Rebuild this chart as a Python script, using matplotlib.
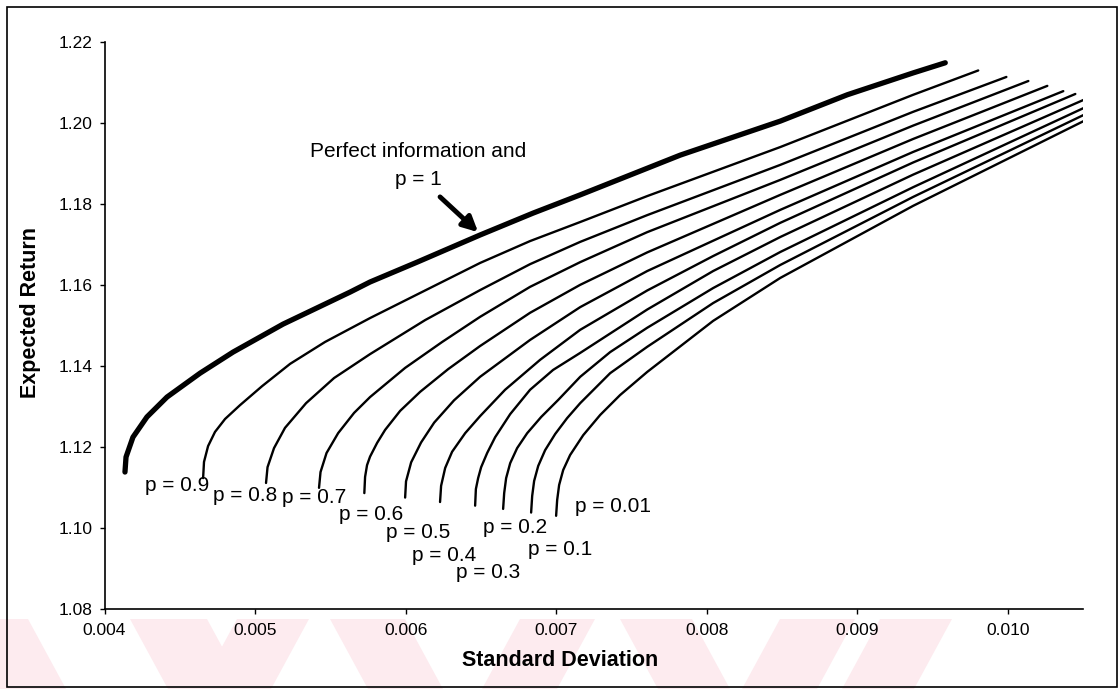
import matplotlib
matplotlib.use("Agg")
import matplotlib.pyplot as plt
from matplotlib.patches import Polygon, Rectangle

plt.rcParams['font.family'] = ['Liberation Sans', 'DejaVu Sans']

# mean-variance frontiers: standard deviation (x) vs expected return (y)
sd_p1 = [0.004136, 0.004143, 0.004189, 0.004282, 0.004415, 0.004635, 0.004854,
         0.005186, 0.005631, 0.005764, 0.006077, 0.006495, 0.006847, 0.007160,
         0.007824, 0.008489, 0.008934, 0.009372, 0.009585]
ret_p1 = [1.1138, 1.1175, 1.1224, 1.1274, 1.1323, 1.1382, 1.1434,
          1.1503, 1.1582, 1.1607, 1.1656, 1.1723, 1.1777, 1.1822,
          1.1920, 1.2004, 1.2069, 1.2123, 1.2148]

sd_p09 = [0.004655, 0.004661, 0.004688, 0.004734, 0.004801, 0.004900, 0.005047,
          0.005233, 0.005465, 0.005764, 0.006097, 0.006495, 0.006827, 0.007160,
          0.007605, 0.008489, 0.009372, 0.009804]
ret_p09 = [1.1123, 1.1163, 1.1202, 1.1237, 1.1269, 1.1303, 1.1350,
           1.1405, 1.1459, 1.1518, 1.1580, 1.1654, 1.1708, 1.1755,
           1.1819, 1.1940, 1.2069, 1.2129]

sd_p08 = [0.005073, 0.005083, 0.005126, 0.005199, 0.005339, 0.005525, 0.005764,
          0.006130, 0.006495, 0.006827, 0.007160, 0.007605, 0.008489, 0.009372,
          0.009991]
ret_p08 = [1.1111, 1.1150, 1.1197, 1.1247, 1.1308, 1.1370, 1.1429,
           1.1513, 1.1587, 1.1651, 1.1706, 1.1772, 1.1896, 1.2027,
           1.2113]

sd_p07 = [0.005425, 0.005435, 0.005475, 0.005552, 0.005658, 0.005764, 0.005997,
          0.006243, 0.006495, 0.006827, 0.007160, 0.007605, 0.008489, 0.009372,
          0.010137]
ret_p07 = [1.1099, 1.1138, 1.1185, 1.1234, 1.1284, 1.1323, 1.1395,
           1.1459, 1.1521, 1.1595, 1.1656, 1.1730, 1.1859, 1.1993,
           1.2103]

sd_p06 = [0.005726, 0.005731, 0.005744, 0.005764, 0.005811, 0.005864, 0.005964,
          0.006097, 0.006283, 0.006495, 0.006827, 0.007160, 0.007605, 0.008489,
          0.009372, 0.010263]
ret_p06 = [1.1086, 1.1126, 1.1155, 1.1176, 1.1210, 1.1242, 1.1289,
           1.1336, 1.1392, 1.1449, 1.1531, 1.1600, 1.1680, 1.1822,
           1.1960, 1.2091]

sd_p05 = [0.005997, 0.006003, 0.006037, 0.006103, 0.006190, 0.006322, 0.006495,
          0.006827, 0.007160, 0.007605, 0.008489, 0.009372, 0.010369]
ret_p05 = [1.1075, 1.1115, 1.1162, 1.1211, 1.1260, 1.1315, 1.1373,
           1.1464, 1.1545, 1.1634, 1.1785, 1.1928, 1.2078]

sd_p04 = [0.006229, 0.006236, 0.006263, 0.006309, 0.006396, 0.006495, 0.006661,
          0.006894, 0.007160, 0.007605, 0.008043, 0.008489, 0.009372, 0.010449]
ret_p04 = [1.1064, 1.1104, 1.1148, 1.1188, 1.1234, 1.1276, 1.1341,
           1.1415, 1.1489, 1.1586, 1.1671, 1.1753, 1.1902, 1.2071]

sd_p03 = [0.006462, 0.006467, 0.006482, 0.006502, 0.006542, 0.006595, 0.006695,
          0.006827, 0.006980, 0.007160, 0.007605, 0.008043, 0.008489, 0.009372,
          0.010520]
ret_p03 = [1.1055, 1.1096, 1.1123, 1.1150, 1.1185, 1.1224, 1.1281,
           1.1341, 1.1390, 1.1432, 1.1539, 1.1634, 1.1718, 1.1872,
           1.2059]

sd_p02 = [0.006648, 0.006655, 0.006668, 0.006695, 0.006741, 0.006808, 0.006901,
          0.007014, 0.007160, 0.007359, 0.007605, 0.008043, 0.008489, 0.009372,
          0.010520]
ret_p02 = [1.1047, 1.1086, 1.1123, 1.1160, 1.1197, 1.1234, 1.1274,
           1.1316, 1.1373, 1.1434, 1.1494, 1.1592, 1.1681, 1.1841,
           1.2039]

sd_p01 = [0.006834, 0.006841, 0.006854, 0.006881, 0.006927, 0.006994, 0.007073,
          0.007160, 0.007359, 0.007605, 0.008043, 0.008489, 0.009372, 0.010520]
ret_p01 = [1.1038, 1.1079, 1.1116, 1.1153, 1.1192, 1.1232, 1.1271,
           1.1308, 1.1382, 1.1447, 1.1555, 1.1649, 1.1817, 1.2022]

sd_p001 = [0.007000, 0.007007, 0.007020, 0.007047, 0.007093, 0.007180, 0.007293,
           0.007425, 0.007605, 0.008043, 0.008489, 0.009372, 0.010520]
ret_p001 = [1.1030, 1.1069, 1.1106, 1.1143, 1.1180, 1.1229, 1.1279,
            1.1328, 1.1385, 1.1511, 1.1617, 1.1795, 1.2007]

# curve labels and where they sit
p_labels = ['p = 0.9', 'p = 0.8', 'p = 0.7', 'p = 0.6', 'p = 0.5',
            'p = 0.4', 'p = 0.3', 'p = 0.2', 'p = 0.1', 'p = 0.01']
label_sd = [0.004482, 0.004934, 0.005392, 0.005771, 0.006083,
            0.006256, 0.006548, 0.006728, 0.007027, 0.007379]
label_ret = [1.1104, 1.1079, 1.1076, 1.1034, 1.0988,
             1.0931, 1.0889, 1.1000, 1.0946, 1.1052]

x_ticks = [0.004, 0.005, 0.006, 0.007, 0.008, 0.009, 0.010]
x_ticklabels = ['0.004', '0.005', '0.006', '0.007', '0.008', '0.009', '0.010']
y_ticks = [1.08, 1.10, 1.12, 1.14, 1.16, 1.18, 1.20, 1.22]
y_ticklabels = ['1.08', '1.10', '1.12', '1.14', '1.16', '1.18', '1.20', '1.22']

W, H = 1120, 689
fig = plt.figure(figsize=(W / 100, H / 100), dpi=100)
ax = fig.add_axes([104.5 / W, 1 - 609 / H, (1083 - 104.5) / W, (609 - 41.7) / H])

thin = [(sd_p09, ret_p09), (sd_p08, ret_p08), (sd_p07, ret_p07), (sd_p06, ret_p06),
        (sd_p05, ret_p05), (sd_p04, ret_p04), (sd_p03, ret_p03), (sd_p02, ret_p02),
        (sd_p01, ret_p01), (sd_p001, ret_p001)]
for sd, ret in thin:
    ax.plot(sd, ret, color='black', lw=1.7, solid_capstyle='round',
            solid_joinstyle='round')
ax.plot(sd_p1, ret_p1, color='black', lw=3.8, solid_capstyle='round',
        solid_joinstyle='round')

for txt, x, y in zip(p_labels, label_sd, label_ret):
    ax.text(x, y, txt, fontsize=15, ha='center', va='center')

ax.text(0.006083, 1.1928, 'Perfect information and', fontsize=15, ha='center', va='center')
ax.text(0.006083, 1.1859, 'p = 1', fontsize=15, ha='center', va='center')
ax.annotate('', xy=(0.006482, 1.1730), xytext=(0.006229, 1.1817),
            arrowprops=dict(arrowstyle='-|>,head_length=0.9,head_width=0.45',
                            lw=3.5, color='black', shrinkA=0, shrinkB=0))

ax.set_xlim(0.004, 0.0105)
ax.set_ylim(1.08, 1.22)
ax.set_xticks(x_ticks)
ax.set_xticklabels(x_ticklabels)
ax.set_yticks(y_ticks)
ax.set_yticklabels(y_ticklabels)
ax.tick_params(direction='out', length=3.3, width=1, labelsize=12.5, color='black')
ax.tick_params(axis='x', pad=6.5)
ax.tick_params(axis='y', pad=5.5)
for side in ['top', 'right']:
    ax.spines[side].set_visible(False)
for side in ['left', 'bottom']:
    ax.spines[side].set_linewidth(1.2)

fig.text(560 / W, 1 - 660 / H, 'Standard Deviation', fontsize=15.5,
         fontweight='bold', ha='center', va='center')
fig.text(31 / W, 1 - 312 / H, 'Expected Return', fontsize=15.5,
         fontweight='bold', ha='center', va='center', rotation=90)

# faint diagonal stripes along the bottom edge
stripe_top, stripe_bot = 619, H
shift = 38
stripes = [(-45, 73, 1), (130, 77, 1), (237, 72, -1), (330, 75, 1),
           (520, 75, -1), (620, 72, 1), (780, 75, -1), (880, 72, -1)]
for x0, w, d in stripes:
    pts = [(x0, stripe_top), (x0 + w, stripe_top),
           (x0 + w + d * shift, stripe_bot), (x0 + d * shift, stripe_bot)]
    pts = [(px / W, 1 - py / H) for px, py in pts]
    fig.patches.append(Polygon(pts, closed=True, transform=fig.transFigure,
                               facecolor='#fdebef', edgecolor='none', zorder=-1))

# outer frame
fig.patches.append(Rectangle((7 / W, 2 / H), 1110 / W, 680 / H, transform=fig.transFigure,
                             fill=False, edgecolor='black', lw=1.2, zorder=5))

fig.savefig('out.png', dpi=100)
